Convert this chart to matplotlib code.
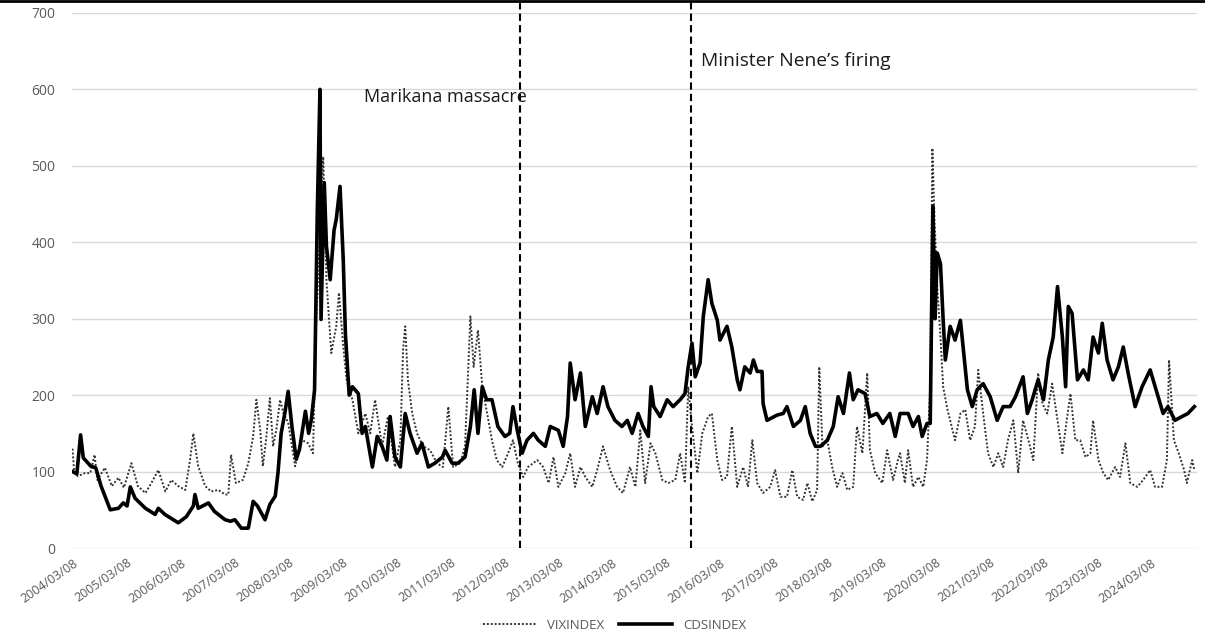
import pandas as pd
import matplotlib.pyplot as plt
from matplotlib.lines import Line2D

plt.rcParams['font.family'] = 'Open Sans'

# readings in fractional years
cds_t = [2004.17, 2004.25, 2004.32, 2004.37, 2004.51, 2004.60, 2004.70, 2004.87, 2005.02, 2005.11,
         2005.18, 2005.24, 2005.33, 2005.52, 2005.70, 2005.76, 2005.88, 2006.13, 2006.28, 2006.41,
         2006.44, 2006.50, 2006.69, 2006.80, 2007.00, 2007.10, 2007.18, 2007.30, 2007.43, 2007.52,
         2007.60, 2007.74, 2007.83, 2007.93, 2007.98, 2008.04, 2008.11, 2008.17, 2008.24, 2008.32,
         2008.38, 2008.49, 2008.55, 2008.60, 2008.66, 2008.71, 2008.76, 2008.78, 2008.84, 2008.88,
         2008.95, 2009.02, 2009.06, 2009.13, 2009.19, 2009.23, 2009.30, 2009.36, 2009.47, 2009.54,
         2009.60, 2009.73, 2009.82, 2009.91, 2010.00, 2010.06, 2010.15, 2010.25, 2010.34, 2010.43,
         2010.56, 2010.65, 2010.77, 2010.89, 2011.03, 2011.08, 2011.21, 2011.32, 2011.45, 2011.55,
         2011.62, 2011.69, 2011.77, 2011.85, 2011.95, 2012.06, 2012.19, 2012.28, 2012.34, 2012.42,
         2012.51, 2012.60, 2012.72, 2012.81, 2012.94, 2013.03, 2013.18, 2013.27, 2013.35, 2013.40,
         2013.49, 2013.59, 2013.68, 2013.81, 2013.90, 2014.01, 2014.10, 2014.23, 2014.36, 2014.46,
         2014.55, 2014.66, 2014.75, 2014.85, 2014.90, 2014.95, 2015.07, 2015.20, 2015.31, 2015.44,
         2015.53, 2015.59, 2015.66, 2015.72, 2015.81, 2015.87, 2015.96, 2016.03, 2016.13, 2016.18,
         2016.31, 2016.40, 2016.50, 2016.55, 2016.64, 2016.74, 2016.80, 2016.87, 2016.96, 2016.98,
         2017.05, 2017.24, 2017.35, 2017.42, 2017.54, 2017.67, 2017.76, 2017.85, 2017.95, 2018.04,
         2018.17, 2018.28, 2018.37, 2018.47, 2018.58, 2018.65, 2018.74, 2018.87, 2018.96, 2019.09,
         2019.20, 2019.33, 2019.43, 2019.52, 2019.67, 2019.76, 2019.86, 2019.93, 2020.02, 2020.08,
         2020.13, 2020.17, 2020.21, 2020.27, 2020.32, 2020.36, 2020.45, 2020.54, 2020.64, 2020.69,
         2020.77, 2020.86, 2020.95, 2021.06, 2021.19, 2021.32, 2021.43, 2021.56, 2021.66, 2021.80,
         2021.88, 2021.97, 2022.08, 2022.18, 2022.27, 2022.36, 2022.44, 2022.53, 2022.59, 2022.64,
         2022.71, 2022.81, 2022.92, 2023.01, 2023.10, 2023.20, 2023.27, 2023.36, 2023.47, 2023.57,
         2023.66, 2023.75, 2023.88, 2024.01, 2024.16, 2024.29, 2024.40, 2024.49, 2024.62, 2024.75,
         2024.86, 2024.98]
cds_v = [100, 97, 148, 118, 107, 105, 81, 50, 52, 59,
         55, 80, 65, 52, 44, 52, 44, 33, 41, 55,
         70, 52, 59, 48, 37, 35, 37, 26, 26, 61,
         55, 37, 57, 68, 98, 150, 177, 205, 159, 116,
         129, 179, 150, 168, 207, 438, 600, 299, 478, 395,
         351, 416, 430, 473, 377, 280, 200, 211, 202, 150,
         159, 106, 146, 133, 115, 172, 119, 106, 176, 150,
         124, 137, 106, 111, 119, 128, 111, 111, 119, 159,
         207, 150, 211, 194, 194, 159, 146, 150, 185, 154,
         124, 141, 150, 141, 133, 159, 154, 133, 172, 242,
         194, 229, 159, 198, 176, 211, 185, 167, 159, 167,
         150, 176, 159, 146, 211, 185, 172, 194, 185, 194,
         202, 237, 268, 224, 242, 303, 351, 320, 298, 272,
         290, 263, 220, 207, 237, 229, 246, 231, 231, 189,
         167, 174, 176, 185, 159, 167, 185, 150, 133, 133,
         141, 159, 198, 176, 229, 194, 207, 202, 172, 176,
         163, 176, 146, 176, 176, 159, 172, 146, 163, 163,
         447, 300, 386, 372, 298, 246, 290, 272, 298, 263,
         207, 185, 207, 215, 198, 167, 185, 185, 198, 224,
         176, 194, 220, 194, 246, 276, 342, 276, 211, 316,
         307, 220, 233, 220, 276, 255, 294, 246, 220, 237,
         263, 229, 185, 211, 233, 202, 176, 185, 167, 172,
         176, 185]

vix_t = [2004.17, 2004.20, 2004.27, 2004.40, 2004.50, 2004.58, 2004.63, 2004.77, 2004.90, 2005.02,
         2005.12, 2005.26, 2005.38, 2005.52, 2005.63, 2005.76, 2005.89, 2006.00, 2006.13, 2006.26,
         2006.35, 2006.41, 2006.50, 2006.63, 2006.74, 2006.87, 2007.00, 2007.06, 2007.11, 2007.20,
         2007.33, 2007.43, 2007.52, 2007.58, 2007.65, 2007.70, 2007.76, 2007.83, 2007.89, 2007.95,
         2008.02, 2008.08, 2008.17, 2008.30, 2008.41, 2008.54, 2008.63, 2008.69, 2008.76, 2008.82,
         2008.88, 2008.97, 2009.06, 2009.11, 2009.19, 2009.25, 2009.36, 2009.47, 2009.60, 2009.69,
         2009.78, 2009.91, 2010.02, 2010.15, 2010.25, 2010.30, 2010.34, 2010.39, 2010.47, 2010.56,
         2010.67, 2010.80, 2010.93, 2011.04, 2011.14, 2011.23, 2011.36, 2011.45, 2011.55, 2011.61,
         2011.69, 2011.77, 2011.86, 2011.95, 2012.04, 2012.14, 2012.25, 2012.34, 2012.43, 2012.53,
         2012.62, 2012.79, 2012.90, 2013.00, 2013.09, 2013.18, 2013.31, 2013.40, 2013.49, 2013.59,
         2013.68, 2013.81, 2013.90, 2014.01, 2014.14, 2014.27, 2014.38, 2014.51, 2014.61, 2014.70,
         2014.79, 2014.89, 2014.98, 2015.11, 2015.22, 2015.35, 2015.44, 2015.53, 2015.59, 2015.66,
         2015.76, 2015.85, 2015.96, 2016.03, 2016.13, 2016.22, 2016.31, 2016.40, 2016.50, 2016.61,
         2016.70, 2016.78, 2016.87, 2016.98, 2017.11, 2017.20, 2017.30, 2017.42, 2017.52, 2017.61,
         2017.72, 2017.80, 2017.89, 2017.98, 2018.02, 2018.08, 2018.17, 2018.26, 2018.35, 2018.45,
         2018.54, 2018.65, 2018.72, 2018.82, 2018.91, 2018.96, 2019.06, 2019.19, 2019.28, 2019.39,
         2019.48, 2019.52, 2019.61, 2019.67, 2019.76, 2019.86, 2019.95, 2020.02, 2020.08, 2020.12,
         2020.16, 2020.21, 2020.27, 2020.32, 2020.40, 2020.45, 2020.54, 2020.64, 2020.73, 2020.82,
         2020.91, 2020.97, 2021.06, 2021.15, 2021.25, 2021.34, 2021.43, 2021.52, 2021.62, 2021.71,
         2021.80, 2021.90, 2021.99, 2022.08, 2022.16, 2022.25, 2022.34, 2022.44, 2022.53, 2022.62,
         2022.68, 2022.77, 2022.86, 2022.96, 2023.05, 2023.10, 2023.20, 2023.29, 2023.38, 2023.51,
         2023.60, 2023.70, 2023.79, 2023.92, 2024.03, 2024.16, 2024.25, 2024.38, 2024.47, 2024.51,
         2024.60, 2024.69, 2024.79, 2024.84, 2024.94, 2024.98]
vix_v = [130, 100, 94, 98, 98, 122, 89, 105, 81, 92,
         79, 111, 81, 72, 85, 102, 74, 89, 81, 76,
         116, 150, 107, 81, 74, 76, 70, 70, 122, 85,
         89, 111, 146, 194, 155, 107, 142, 196, 133, 155,
         194, 177, 164, 107, 142, 137, 124, 294, 412, 512,
         351, 255, 290, 334, 264, 221, 194, 150, 176, 150,
         194, 133, 172, 106, 141, 259, 290, 220, 176, 150,
         133, 128, 111, 106, 185, 106, 111, 133, 303, 237,
         285, 211, 176, 141, 115, 106, 124, 141, 111, 93,
         106, 115, 106, 85, 119, 80, 98, 124, 80, 106,
         93, 80, 102, 133, 102, 80, 72, 106, 80, 154,
         85, 137, 124, 89, 85, 89, 124, 85, 211, 159,
         98, 150, 172, 176, 115, 89, 93, 159, 80, 106,
         80, 141, 85, 72, 80, 102, 67, 67, 102, 67,
         63, 85, 61, 76, 237, 133, 141, 106, 80, 98,
         76, 80, 159, 124, 229, 128, 98, 85, 128, 89,
         115, 124, 85, 128, 80, 93, 80, 115, 211, 523,
         429, 342, 276, 211, 181, 167, 141, 176, 181, 141,
         159, 233, 176, 124, 106, 124, 106, 141, 167, 98,
         167, 141, 115, 229, 189, 176, 215, 167, 124, 172,
         202, 141, 141, 119, 124, 167, 115, 98, 89, 106,
         93, 137, 85, 80, 89, 102, 80, 80, 115, 246,
         141, 124, 102, 85, 115, 102]

events = ['Marikana massacre', 'Minister Nene\u2019s firing']
event_dates = ['2012-06-21', '2015-08-24']
tick_years = list(range(2004, 2025))


def to_dates(years):
    return [pd.Timestamp(int(y), 1, 1) + pd.Timedelta(days=(y - int(y)) * 365.25) for y in years]


fig = plt.figure(figsize=(12.05, 6.34), dpi=100)
ax = fig.add_axes([0.0598, 0.1356, 0.9336, 0.844])

ax.plot(to_dates(vix_t), vix_v, color='#333333', lw=1.4, ls=(0, (1, 1)), label='VIXINDEX')
ax.plot(to_dates(cds_t), cds_v, color='black', lw=2.6, label='CDSINDEX')

for d in event_dates:
    ax.axvline(pd.Timestamp(d), ymin=0, ymax=1.02, color='black', lw=1.5,
               ls=(0, (3.5, 2)), clip_on=False)

ax.text(pd.Timestamp(event_dates[0]) + pd.Timedelta(days=45), 590, events[0],
        ha='right', va='center', fontsize=13, color='#1a1a1a')
ax.text(pd.Timestamp(event_dates[1]) + pd.Timedelta(days=70), 637, events[1],
        ha='left', va='center', fontsize=13.8, color='#1a1a1a')

ax.set_ylim(0, 700)
ax.set_yticks(range(0, 701, 100))
ax.set_xlim(pd.Timestamp('2004-02-29'), pd.Timestamp('2025-01-11'))
ticks = [pd.Timestamp(f'{y}-03-08') for y in tick_years]
ax.set_xticks(ticks)
ax.set_xticklabels([t.strftime('%Y/%m/%d') for t in ticks], rotation=35,
                   ha='right', rotation_mode='anchor', fontsize=9, color='#595959')
ax.tick_params(axis='y', labelsize=10, labelcolor='#595959', pad=12)
ax.tick_params(length=0)
ax.tick_params(axis='x', pad=6)
ax.grid(axis='y', color='#d9d9d9', lw=1)
ax.set_axisbelow(True)
for s in ax.spines.values():
    s.set_visible(False)

leg = ax.legend(loc='center', bbox_to_anchor=(0.51, 0.014), bbox_transform=fig.transFigure,
                ncol=2, frameon=False, fontsize=9.5, handlelength=4, columnspacing=1.2)
for t in leg.get_texts():
    t.set_color('#595959')

fig.add_artist(Line2D([0, 1], [0.998, 0.998], color='black', lw=2, transform=fig.transFigure))

fig.savefig('out.png', dpi=100)
